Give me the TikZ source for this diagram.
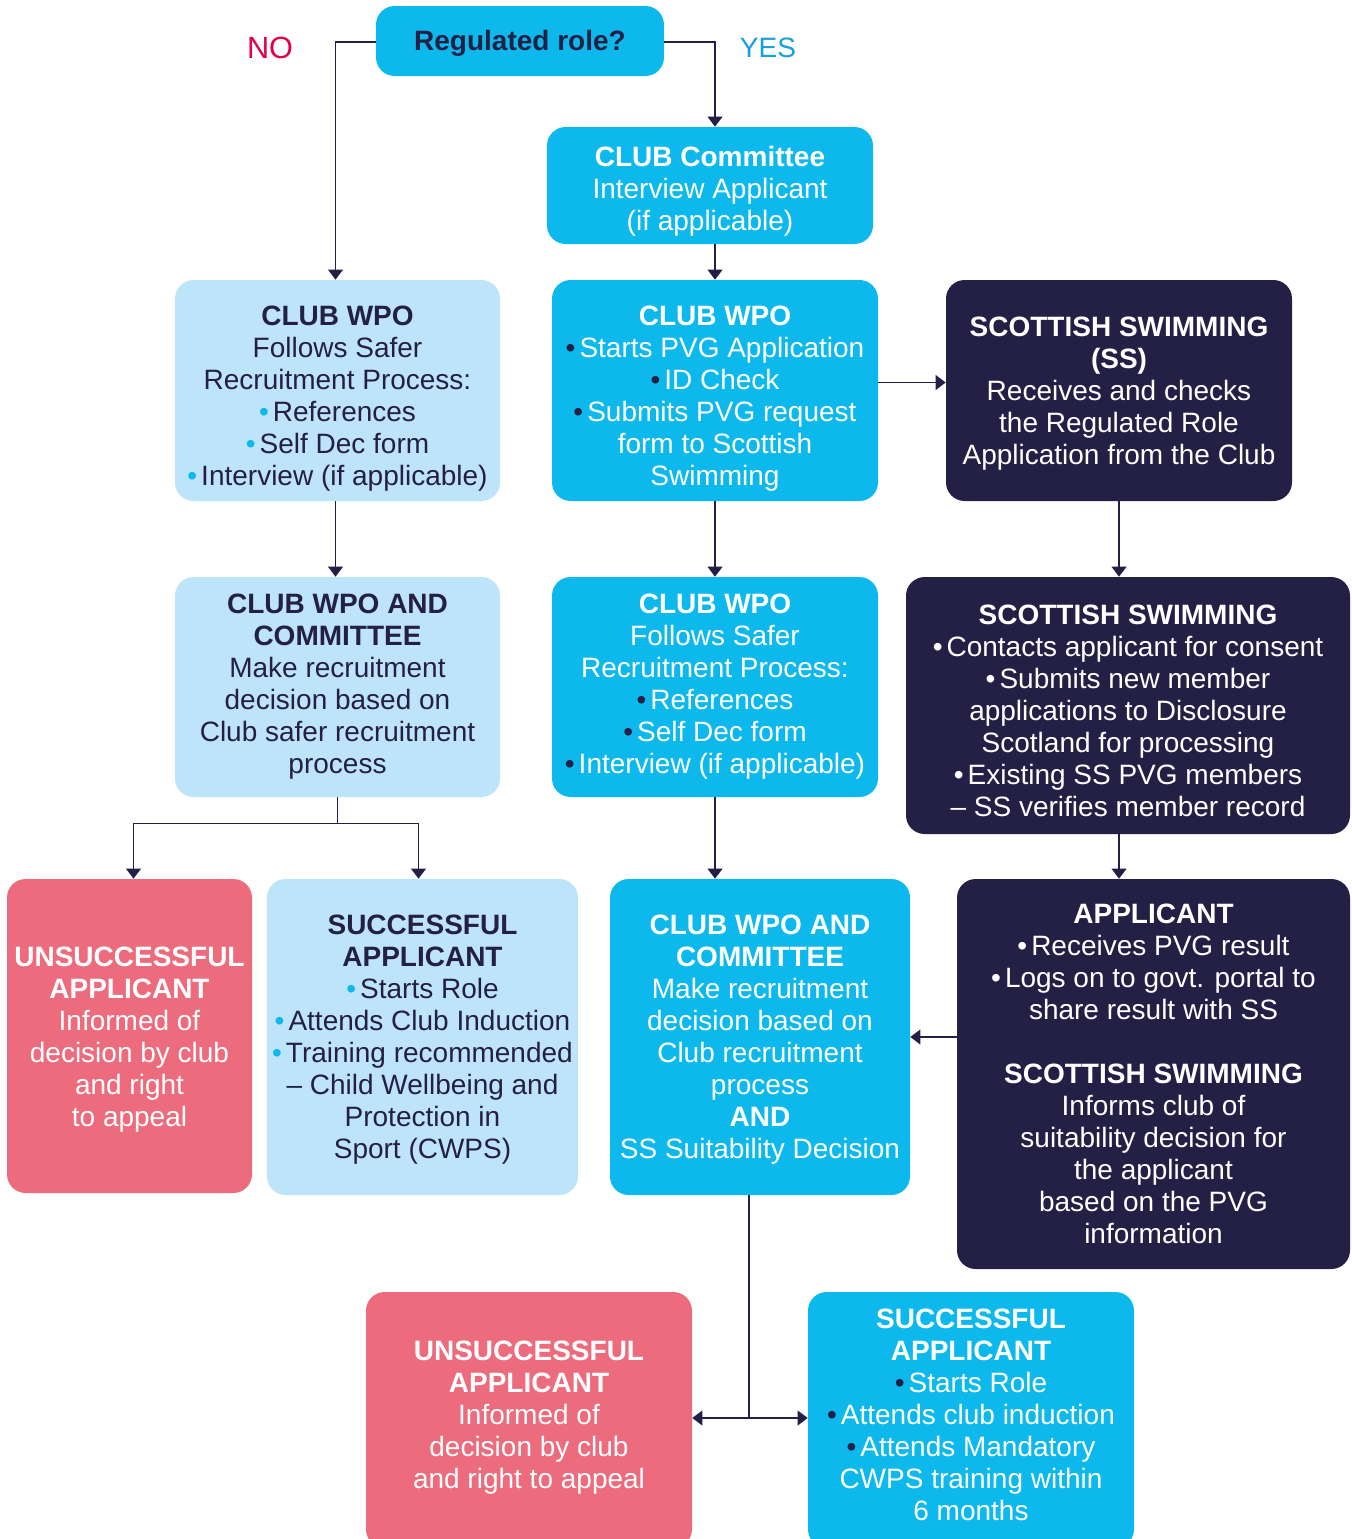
\documentclass[tikz,border=0pt]{standalone}
\usepackage{fontspec}
\setmainfont{Liberation Sans}
\usetikzlibrary{arrows.meta,calc}
\definecolor{cyanb}{RGB}{13,185,236}
\definecolor{lblue}{RGB}{190,228,249}
\definecolor{navy}{RGB}{36,31,69}
\definecolor{pinkb}{RGB}{236,108,125}
\definecolor{nored}{RGB}{228,0,70}
\definecolor{yesblue}{RGB}{20,160,225}
\newcommand{\bl}[1]{\textcolor{#1}{\textbullet}\hspace{3pt}}
% \bx[text offset]{name}{x1}{y1}{x2}{y2}{style}{text}
\newcommand{\bx}[8][0]{%
  \node[#7, minimum width={(#5-#3)*0.75pt}, minimum height={(#6-#4)*0.75pt}] (#2) at ({(#3+#5)/2},{(#4+#6)/2}) {};
  \node[#7, fill=none, draw=none] (#2-t) at ($(#2.center)+(0,#1)$) {#8};}
\tikzset{
  box/.style={rounded corners=14pt, inner sep=0pt, align=center, font=\fontsize{21}{24}\selectfont},
  cyanbox/.style={box, fill=cyanb, text=white},
  lightbox/.style={box, fill=lblue, text=navy},
  navybox/.style={box, fill=navy, text=white},
  pinkbox/.style={box, fill=pinkb, text=white},
  conn/.style={draw=navy, line width=1.1pt, -{Triangle[width=11pt,length=7.5pt]}},
  plain/.style={draw=navy, line width=1.1pt},
  lab/.style={font=\fontsize{21}{24}\selectfont, inner sep=0pt}
}
\begin{document}
\begin{tikzpicture}[x=0.75pt,y=-0.75pt]
\useasboundingbox (0,0) rectangle (1352,1539);
\fill[white] (0,0) rectangle (1352,1539);

\bx[2]{q}{376}{6}{664}{76}{cyanbox,text=navy}{\textbf{Regulated role?}}
\bx[6]{cc}{547}{127}{873}{244}{cyanbox}{\textbf{CLUB Committee}\\Interview Applicant\\(if applicable)}
\bx[8]{wl}{175}{280}{500}{501}{lightbox}{\textbf{CLUB WPO}\\Follows Safer\\Recruitment Process:\\\bl{cyanb}References\\\bl{cyanb}Self Dec form\\\bl{cyanb}Interview (if applicable)}
\bx[8]{wm}{552}{280}{878}{501}{cyanbox}{\textbf{CLUB WPO}\\\bl{navy}Starts PVG Application\\\bl{navy}ID Check\\\bl{navy}Submits PVG request\\form to Scottish\\Swimming}
\bx[3]{ss1}{946}{280}{1292}{501}{navybox}{\textbf{SCOTTISH SWIMMING}\\\textbf{(SS)}\\Receives and checks\\the Regulated Role\\Application from the Club}
\bx{dl}{175}{577}{500}{797}{lightbox}{\textbf{CLUB WPO AND}\\\textbf{COMMITTEE}\\Make recruitment\\decision based on\\Club safer recruitment\\process}
\bx{wm2}{552}{577}{878}{797}{cyanbox}{\textbf{CLUB WPO}\\Follows Safer\\Recruitment Process:\\\bl{navy}References\\\bl{navy}Self Dec form\\\bl{navy}Interview (if applicable)}
\bx[5]{ss2}{906}{577}{1350}{834}{navybox}{\textbf{SCOTTISH SWIMMING}\\\bl{white}Contacts applicant for consent\\\bl{white}Submits new member\\applications to Disclosure\\Scotland for processing\\\bl{white}Existing SS PVG members\\-- SS verifies member record}
\bx[4]{ul}{7}{879}{252}{1193}{pinkbox}{\textbf{UNSUCCESSFUL}\\\textbf{APPLICANT}\\Informed of\\decision by club\\and right\\to appeal}
\bx[3]{sl}{267}{879}{578}{1195}{lightbox}{\textbf{SUCCESSFUL}\\\textbf{APPLICANT}\\\bl{cyanb}Starts Role\\\bl{cyanb}Attends Club Induction\\\bl{cyanb}Training recommended\\-- Child Wellbeing and\\Protection in\\Sport (CWPS)}
\bx[3]{dm}{610}{879}{910}{1195}{cyanbox}{\textbf{CLUB WPO AND}\\\textbf{COMMITTEE}\\Make recruitment\\decision based on\\Club recruitment\\process\\\textbf{AND}\\SS Suitability Decision}
\bx{ap}{957}{879}{1350}{1269}{navybox}{\textbf{APPLICANT}\\\bl{white}Receives PVG result\\\bl{white}Logs on to govt. portal to\\share result with SS\\[24pt]\textbf{SCOTTISH SWIMMING}\\Informs club of\\suitability decision for\\the applicant\\based on the PVG\\information}
\bx[-2]{ub}{366}{1292}{692}{1548}{pinkbox}{\textbf{UNSUCCESSFUL}\\\textbf{APPLICANT}\\Informed of\\decision by club\\and right to appeal}
\bx[-5]{sb}{808}{1292}{1134}{1548}{cyanbox}{\textbf{SUCCESSFUL}\\\textbf{APPLICANT}\\\bl{navy}Starts Role\\\bl{navy}Attends club induction\\\bl{navy}Attends Mandatory\\CWPS training within\\6 months}

\node[lab, text=nored, font=\fontsize{23}{26}\selectfont] (no) at (270,48) {NO};
\node[lab, text=yesblue] (yes) at (768,48) {YES};

% connectors
\draw[conn] ($(q.west)+(0,1)$) -| ($(wl.north)+(-2,0)$);
\draw[conn] ($(q.east)+(0,1)$) -| (cc.north -| wm.north);
\draw[conn] (cc.south -| wm.north) -- (wm.north);
\coordinate (c1) at ($(wm.east)+(0,-8)$);
\draw[conn] (c1) -- (c1 -| ss1.west);
\draw[conn] ($(wl.south)+(-2,0)$) -- ($(dl.north)+(-2,0)$);
\draw[conn] (wm.south) -- (wm2.north);
\draw[conn] (ss1.south) -- (ss1.south |- ss2.north);
\coordinate (j1) at ($(dl.south)+(0,26)$);
\draw[plain] (dl.south) -- (j1);
\draw[conn] (j1) -| ($(ul.north)+(4,0)$);
\draw[conn] (j1) -| ($(sl.north)+(-4,0)$);
\draw[conn] (wm2.south) -- (wm2.south |- dm.north);
\draw[conn] (ss1.south |- ss2.south) -- (ss1.south |- ap.north);
\draw[conn] (ap.west |- dm.east) -- (dm.east);
\coordinate (j2) at (749,1418);
\draw[plain] (dm.south -| j2) -- (j2);
\draw[conn] (j2) -- (j2 -| ub.east);
\draw[conn] (j2) -- (j2 -| sb.west);
\end{tikzpicture}
\end{document}
